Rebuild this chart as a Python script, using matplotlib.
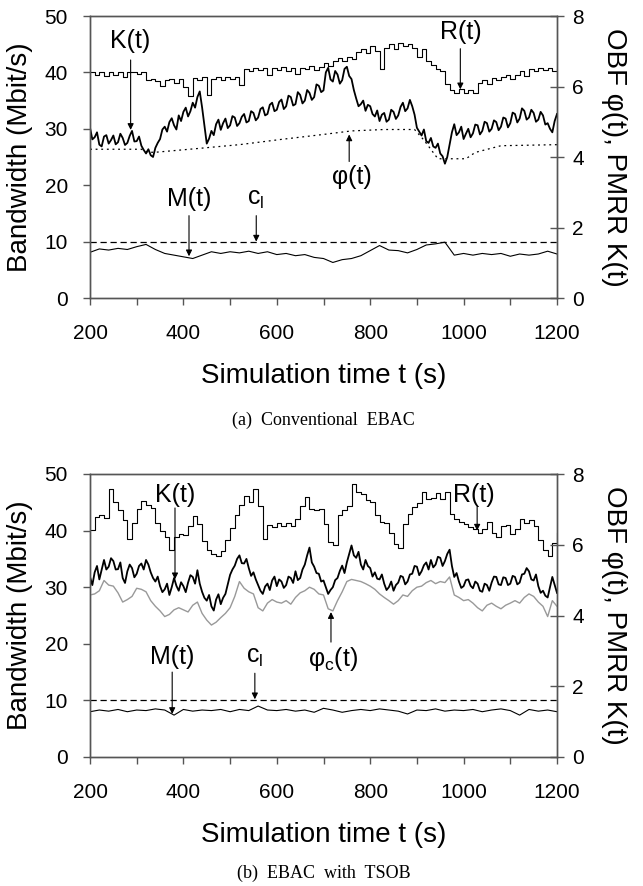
import numpy as np
import matplotlib
matplotlib.use('Agg')
import matplotlib.pyplot as plt

plt.rcParams['font.family'] = ['Liberation Sans', 'DejaVu Sans']
plt.rcParams['mathtext.fontset'] = 'custom'
plt.rcParams['mathtext.rm'] = 'Liberation Sans'

# ---- (a) Conventional EBAC ----
# R(t), M(t) in Mbit/s (left axis); K(t), phi(t) in right-axis units
a_R = [40.0, 39.6, 40.0, 39.4, 40.0, 39.6, 40.0, 39.2, 40.0, 40.0,
       39.8, 40.0, 38.6, 38.8, 38.4, 37.6, 38.6, 38.8, 38.2, 38.8,
       37.4, 35.8, 39.0, 38.6, 39.2, 36.0, 38.8, 39.2, 38.6, 39.2,
       38.8, 39.2, 37.8, 40.6, 40.2, 40.8, 40.4, 40.8, 39.6, 40.8,
       40.4, 41.0, 40.2, 40.8, 39.8, 40.8, 40.6, 41.2, 40.4, 41.0,
       41.6, 41.2, 42.0, 42.6, 42.0, 42.8, 42.4, 43.6, 44.2, 43.4,
       44.6, 43.8, 40.6, 44.4, 45.0, 44.2, 45.2, 44.6, 45.0, 44.4,
       42.8, 44.2, 42.0, 41.4, 40.6, 40.2, 38.0, 36.8, 36.4, 37.0,
       36.4, 36.8, 36.4, 38.2, 38.6, 38.0, 39.0, 38.6, 39.2, 39.6,
       38.8, 39.6, 40.2, 39.4, 40.6, 40.2, 40.8, 40.4, 40.8, 40.2,
       40.6]
a_K = [4.83, 4.50, 4.56, 4.70, 4.35, 4.30, 4.58, 4.62, 4.38, 4.48, 4.61, 4.36, 4.42, 4.66, 4.54, 4.34, 4.40, 4.60, 4.74, 4.44,
       4.45, 4.58, 4.32, 4.20, 4.10, 4.22, 4.05, 4.00, 4.26, 4.40, 4.51, 4.78, 4.86, 4.72, 4.99, 5.10, 4.90, 4.78, 5.18, 5.02,
       5.28, 5.40, 5.15, 5.30, 5.54, 5.40, 5.70, 5.86, 5.41, 4.90, 4.38, 4.52, 4.74, 4.62, 4.93, 5.06, 4.77, 4.96, 5.09, 4.82,
       4.90, 5.16, 5.12, 4.88, 4.96, 5.14, 5.22, 4.98, 5.02, 5.30, 5.25, 5.04, 5.12, 5.36, 5.41, 5.18, 5.22, 5.48, 5.54, 5.30,
       5.34, 5.56, 5.63, 5.36, 5.44, 5.74, 5.70, 5.46, 5.50, 5.84, 5.76, 5.52, 5.60, 5.90, 5.82, 5.62, 5.70, 6.06, 6.02, 5.84,
       5.89, 6.40, 6.53, 6.20, 6.14, 6.44, 6.34, 6.08, 6.18, 6.50, 6.56, 6.30, 6.21, 5.90, 5.66, 5.44, 5.50, 5.60, 5.31, 5.48,
       5.44, 5.22, 5.15, 5.32, 5.02, 5.20, 5.25, 5.00, 5.06, 5.34, 5.28, 5.08, 5.18, 5.42, 5.54, 5.30, 5.38, 5.62, 5.44, 5.20,
       4.83, 4.72, 4.61, 4.78, 4.45, 4.40, 4.54, 4.30, 4.26, 4.38, 4.10, 4.02, 3.81, 4.00, 4.35, 4.70, 4.93, 4.62, 4.70, 4.86,
       4.51, 4.66, 4.80, 4.56, 4.67, 4.92, 4.90, 4.64, 4.74, 5.00, 4.96, 4.72, 4.80, 5.04, 4.99, 4.76, 4.86, 5.12, 5.09, 4.84,
       4.96, 5.26, 5.22, 4.98, 5.09, 5.38, 5.31, 5.06, 5.12, 5.34, 5.25, 5.00, 5.06, 5.28, 5.18, 4.92, 4.96, 4.80, 4.70, 5.02,
       5.22]
a_phi_t = [200, 310, 325, 345, 430, 520, 610, 700, 760, 830, 895, 915, 945, 1005, 1025, 1080, 1200]
a_phi = [4.22, 4.22, 4.13, 4.14, 4.24, 4.35, 4.50, 4.64, 4.74, 4.78, 4.78, 4.48, 3.95, 3.95, 4.13, 4.32, 4.35]
a_M = [8.1, 8.7, 8.5, 8.8, 8.6, 9.1, 9.5, 8.6, 7.9, 7.6,
       7.3, 7.0, 7.6, 8.2, 7.9, 8.2, 8.0, 8.3, 7.9, 8.2,
       7.7, 7.9, 7.5, 7.7, 7.2, 7.0, 6.3, 6.8, 7.0, 7.5,
       8.4, 9.3, 8.5, 8.4, 8.0, 8.6, 9.4, 9.6, 9.9, 7.6,
       7.9, 7.6, 7.9, 7.7, 7.9, 7.4, 7.8, 7.6, 7.8, 8.3,
       7.8]

# ---- (b) EBAC with TSOB ----
b_R = [40.1, 42.4, 42.8, 42.2, 47.4, 45.0, 43.6, 41.8, 38.6, 41.4,
       43.8, 45.2, 44.6, 44.0, 41.4, 40.0, 38.8, 36.6, 38.8, 39.4,
       39.2, 40.8, 42.6, 41.2, 38.2, 36.6, 35.8, 35.6, 36.4, 38.4,
       40.4, 42.8, 44.6, 46.2, 45.0, 47.4, 44.4, 38.6, 41.0, 40.6,
       41.4, 40.8, 41.4, 40.8, 42.0, 44.4, 46.0, 43.8, 43.6, 43.8,
       41.2, 38.0, 37.4, 42.8, 43.6, 44.4, 48.2, 46.8, 46.4, 45.4,
       45.0, 42.8, 41.6, 41.4, 39.6, 37.6, 37.0, 41.2, 43.0, 44.2,
       44.8, 46.8, 45.6, 45.8, 46.6, 45.6, 46.8, 43.0, 42.0, 41.6,
       41.2, 40.6, 40.2, 39.6, 40.2, 41.6, 39.6, 38.8, 40.8, 41.0,
       39.4, 40.2, 42.0, 41.4, 41.8, 40.8, 38.4, 36.6, 35.6, 37.8,
       39.6]
b_K = [5.09, 4.86, 5.22, 5.40, 5.02, 5.30, 5.57, 5.30, 5.38, 5.62, 5.54, 5.30, 5.31, 5.50, 5.06, 4.92, 5.25, 5.44, 5.34, 5.08,
       5.18, 5.40, 5.47, 5.30, 5.57, 5.44, 5.22, 5.06, 4.96, 5.10, 4.83, 4.66, 4.74, 4.90, 4.58, 4.80, 5.06, 4.84, 4.70, 4.94,
       4.83, 4.66, 4.93, 5.14, 5.09, 4.90, 5.28, 4.90, 4.67, 4.50, 4.42, 4.58, 4.26, 4.14, 4.45, 4.60, 4.32, 4.50, 4.61, 4.88,
       5.15, 5.30, 5.41, 5.60, 5.70, 5.48, 5.47, 5.60, 5.34, 5.12, 5.22, 5.02, 4.86, 4.70, 4.61, 4.82, 4.90, 4.72, 4.99, 5.10,
       4.83, 5.02, 4.96, 4.78, 4.86, 5.10, 5.06, 4.92, 5.25, 5.00, 5.06, 5.30, 5.44, 5.70, 5.92, 5.50, 5.38, 5.20, 5.18, 4.96,
       4.99, 4.80, 4.61, 4.72, 4.80, 5.00, 5.06, 5.26, 5.41, 5.20, 5.50, 5.74, 5.98, 5.70, 5.63, 5.80, 5.44, 5.30, 5.57, 5.40,
       5.34, 5.10, 5.22, 5.04, 5.02, 5.16, 4.90, 4.72, 4.80, 4.96, 4.70, 4.86, 4.93, 5.12, 5.09, 4.88, 4.96, 5.16, 5.18, 5.40,
       5.38, 5.14, 5.25, 5.42, 5.50, 5.30, 5.57, 5.36, 5.44, 5.66, 5.63, 5.40, 5.54, 5.74, 5.86, 5.40, 5.09, 5.20, 4.96, 4.78,
       4.83, 5.00, 5.02, 4.84, 4.77, 4.96, 4.90, 4.70, 4.67, 4.90, 4.86, 4.70, 4.93, 5.10, 5.09, 4.88, 4.86, 5.08, 5.06, 4.86,
       4.90, 5.12, 5.09, 4.88, 4.93, 5.16, 5.18, 5.34, 5.25, 5.02, 4.99, 5.16, 4.83, 4.64, 4.70, 4.56, 4.51, 4.80, 5.09, 4.86,
       4.64]
b_phi = [4.58, 4.61, 4.70, 4.99, 4.86, 4.83, 4.64, 4.38, 4.45, 4.54,
         4.77, 4.74, 4.67, 4.42, 4.26, 4.13, 3.97, 4.03, 4.16, 4.22,
         4.16, 4.10, 4.29, 4.38, 4.06, 3.87, 3.73, 3.81, 3.94, 4.06,
         4.22, 4.54, 4.96, 4.77, 4.67, 4.61, 4.22, 4.13, 4.35, 4.45,
         4.38, 4.35, 4.42, 4.32, 4.51, 4.64, 4.70, 4.80, 4.74, 4.61,
         4.58, 4.19, 4.13, 4.42, 4.67, 4.96, 5.02, 4.99, 4.96, 4.90,
         4.83, 4.74, 4.61, 4.51, 4.42, 4.32, 4.42, 4.58, 4.54, 4.70,
         4.80, 4.83, 4.93, 4.99, 4.90, 4.96, 4.93, 5.09, 4.58, 4.51,
         4.42, 4.45, 4.35, 4.22, 4.13, 4.29, 4.35, 4.26, 4.19, 4.29,
         4.35, 4.42, 4.35, 4.51, 4.61, 4.54, 4.38, 4.26, 3.97, 4.42,
         4.26]
b_M = [8.0, 8.3, 8.1, 8.4, 8.0, 8.3, 8.2, 8.5, 8.3, 7.4,
       8.4, 8.1, 8.3, 8.2, 8.4, 8.0, 8.4, 8.2, 9.0, 8.3,
       8.2, 8.4, 8.1, 8.3, 7.9, 8.6, 8.3, 7.9, 8.2, 8.4,
       8.2, 8.5, 8.3, 8.1, 7.6, 8.3, 8.2, 8.5, 8.1, 8.3,
       8.2, 8.4, 8.0, 8.3, 8.5, 8.2, 7.4, 8.4, 8.1, 8.3,
       8.0]

c_l = 10  # admission threshold (Mbit/s)

x_ticks = [200, 400, 600, 800, 1000, 1200]
left_ticks = [0, 10, 20, 30, 40, 50]
right_ticks = [0, 2, 4, 6, 8]

SPINE = '#555555'
FS_TICK = 15
FS_LABEL = 20
FS_NOTE = 18


def arrow(ax, tail, tip):
    ax.annotate('', xy=tip, xytext=tail,
                arrowprops=dict(arrowstyle='-|>', color='k', lw=0.8,
                                mutation_scale=9, shrinkA=0, shrinkB=0))


def draw_panel(fig, rect, R, K, phi_t, phi, M, phi_style, notes, caption, cap_y):
    ax = fig.add_axes(rect)
    ax2 = ax.twinx()

    # 系列の描画
    ax.plot(np.linspace(200, 1200, len(R)), R, color='k', lw=0.8, drawstyle='steps-post')
    ax.plot(np.linspace(200, 1200, len(M)), M, color='k', lw=0.8)
    ax.axhline(c_l, color='k', lw=0.9, ls=(0, (5, 3)))
    ax2.plot(phi_t, phi, **phi_style)
    ax2.plot(np.linspace(200, 1200, len(K)), K, color='k', lw=1.3)

    ax.set_xlim(200, 1200)
    ax.set_ylim(0, 50)
    ax2.set_ylim(0, 8)

    ax.set_xticks(np.arange(200, 1201, 100))
    ax.set_xticklabels([str(v) if v in x_ticks else '' for v in range(200, 1201, 100)])
    ax.set_yticks(left_ticks)
    ax2.set_yticks(right_ticks)

    ax.tick_params(axis='x', direction='out', length=5, width=1, colors=SPINE,
                   labelcolor='k', labelsize=FS_TICK, pad=14)
    ax.tick_params(axis='y', direction='out', length=5, width=1, colors=SPINE,
                   labelcolor='k', labelsize=FS_TICK, pad=11)
    ax2.tick_params(axis='y', direction='inout', length=10, width=1, colors=SPINE,
                    labelcolor='k', labelsize=FS_TICK, pad=6)

    for a in (ax, ax2):
        for s in a.spines.values():
            s.set_color(SPINE)
            s.set_linewidth(1.0)

    ax.set_xlabel('Simulation time t (s)', fontsize=FS_LABEL, labelpad=14)
    ax.set_ylabel('Bandwidth (Mbit/s)', fontsize=FS_LABEL, labelpad=8)
    ax2.set_ylabel('OBF \u03c6(t), PMRR K(t)', fontsize=FS_LABEL, rotation=270,
                   labelpad=31)

    # 注釈: (text, text position, arrow tail, arrow tip)
    for text, tpos, tail, tip in notes:
        ax.text(tpos[0], tpos[1], text, fontsize=FS_NOTE, ha='center', va='center')
        arrow(ax, tail, tip)

    fig.text(rect[0] + rect[2] / 2, cap_y, caption, ha='center', va='center',
             fontsize=13, family='Liberation Serif')
    return ax


fig = plt.figure(figsize=(6.43, 8.86), dpi=100)

notes_a = [
    ('K(t)', (285, 45.5), (287, 42.2), (287, 29.8)),
    ('R(t)', (994, 47.2), (993, 44.2), (993, 37.0)),
    ('\u03c6(t)', (760, 21.5), (755, 24.2), (755, 29.0)),
    ('M(t)', (412, 17.6), (412, 14.6), (412, 7.4)),
    (r'c$_\mathregular{l}$', (554, 17.6), (556, 14.6), (556, 10.0)),
]
notes_b = [
    ('K(t)', (382, 46.3), (382, 44.0), (382, 31.4)),
    ('R(t)', (1022, 46.3), (1029, 44.2), (1029, 40.0)),
    ('\u03c6' + r'$_\mathregular{c}$(t)', (720, 17.4), (716, 20.3), (716, 25.6)),
    ('M(t)', (376, 17.6), (376, 15.0), (376, 7.6)),
    (r'c$_\mathregular{l}$', (552, 17.6), (553, 14.8), (553, 10.2)),
]

H = 886.0
W = 643.0
left, width = 90 / W, 467 / W
draw_panel(fig, [left, 1 - 298 / H, width, 282 / H], a_R, a_K, a_phi_t, a_phi, a_M,
           dict(color='k', lw=0.9, ls=(0, (1.5, 3))), notes_a,
           '(a)  Conventional  EBAC', 1 - 420 / H)
draw_panel(fig, [left, 1 - 757 / H, width, 283 / H], b_R, b_K,
           np.linspace(200, 1200, len(b_phi)), b_phi, b_M,
           dict(color='#999999', lw=1.0), notes_b,
           '(b)  EBAC  with  TSOB', 1 - 873 / H)

fig.savefig('out.png', dpi=100)
